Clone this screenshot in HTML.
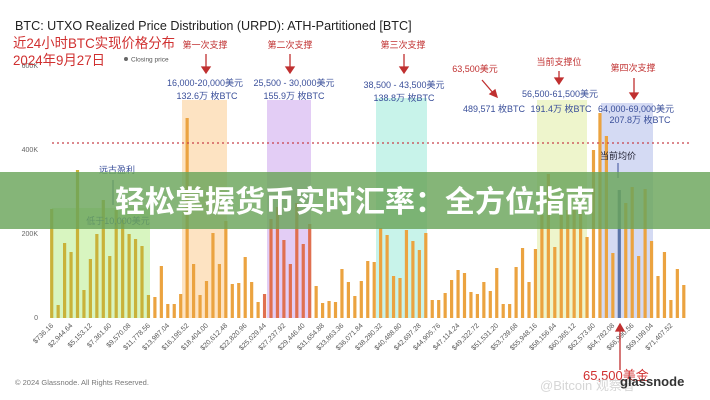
<!DOCTYPE html>
<html><head><meta charset="utf-8"><style>
body{margin:0;background:#fff;width:710px;height:400px;overflow:hidden}
svg{display:block;font-family:"Liberation Sans","Noto Sans CJK SC",sans-serif}
</style></head><body>
<svg id="s" width="710" height="400" viewBox="0 0 710 400" xmlns="http://www.w3.org/2000/svg">
<rect width="710" height="400" fill="#fff"/>
<rect x="52" y="208" width="98" height="110" fill="#d8f5c0"/>
<rect x="182" y="100" width="45" height="218" fill="#fde3c2"/>
<rect x="267" y="100" width="44" height="218" fill="#e3cdf5"/>
<rect x="376" y="98" width="51" height="220" fill="#c8f3ea"/>
<rect x="537" y="100" width="50" height="218" fill="#eef5cc"/>
<rect x="601" y="103" width="52" height="215" fill="#d4daf3"/>
<g id="bars"></g>
<line x1="52" y1="143" x2="690" y2="143" stroke="#c8404a" stroke-width="1.2" stroke-dasharray="2,3"/>
<g font-size="7" fill="#666">
<text x="38" y="68" text-anchor="end">600K</text>
<text x="38" y="152" text-anchor="end">400K</text>
<text x="38" y="236" text-anchor="end">200K</text>
<text x="38" y="320" text-anchor="end">0</text>
</g>
<g id="xl" font-size="7" fill="#555"></g>
<text x="15" y="30" font-size="12.6" fill="#222">BTC: UTXO Realized Price Distribution (URPD): ATH-Partitioned [BTC]</text>
<circle cx="126" cy="59" r="2" fill="#666"/>
<text x="131" y="61.5" font-size="6.5" fill="#555">Closing price</text>
<text x="13" y="48" font-size="14" fill="#d03030" textLength="162" lengthAdjust="spacingAndGlyphs">近24小时BTC实现价格分布</text>
<text x="13" y="65" font-size="14" fill="#d03030" textLength="92" lengthAdjust="spacingAndGlyphs">2024年9月27日</text>
<g font-size="9" fill="#c03030" text-anchor="middle">
<text x="205" y="48">第一次支撑</text>
<text x="290" y="48">第二次支撑</text>
<text x="403" y="48">第三次支撑</text>
<text x="475" y="72">63,500美元</text>
<text x="559" y="65">当前支撑位</text>
<text x="633" y="71">第四次支撑</text>
</g>
<g stroke="#c03030" stroke-width="1.3" fill="#c03030">
<line x1="206" y1="54" x2="206" y2="68"/><path d="M202,67 L210,67 L206,73Z"/>
<line x1="290" y1="54" x2="290" y2="68"/><path d="M286,67 L294,67 L290,73Z"/>
<line x1="404" y1="54" x2="404" y2="68"/><path d="M400,67 L408,67 L404,73Z"/>
<line x1="482" y1="80" x2="494" y2="94"/><path d="M490,94 L497,97 L495,90Z"/>
<line x1="559" y1="71" x2="559" y2="79"/><path d="M555,78 L563,78 L559,84Z"/>
<line x1="634" y1="78" x2="634" y2="94"/><path d="M630,93 L638,93 L634,99Z"/>
<line x1="620" y1="370" x2="620" y2="330"/><path d="M616,331 L624,331 L620,324Z"/>
</g>
<g font-size="9" fill="#3a4f9a" text-anchor="middle">
<text x="205" y="86">16,000-20,000美元</text>
<text x="207" y="99">132.6万 枚BTC</text>
<text x="294" y="86">25,500 - 30,000美元</text>
<text x="294" y="99">155.9万 枚BTC</text>
<text x="404" y="88">38,500 - 43,500美元</text>
<text x="404" y="101">138.8万 枚BTC</text>
<text x="494" y="112">489,571 枚BTC</text>
<text x="560" y="97">56,500-61,500美元</text>
<text x="561" y="112">191.4万 枚BTC</text>
<text x="636" y="112">64,000-69,000美元</text>
<text x="640" y="123">207.8万 枚BTC</text>
<text x="117" y="173">远古盈利</text>
<text x="118" y="224">低于10,000美元</text>
<text x="618" y="159" fill="#223">当前均价</text>
</g>
<line x1="113" y1="180" x2="113" y2="205" stroke="#3a4f9a"/>
<line x1="618" y1="163" x2="618" y2="178" stroke="#3a4f9a"/>
<text x="15" y="385" font-size="7.5" fill="#777">© 2024 Glassnode. All Rights Reserved.</text>
<text x="583" y="380" font-size="13" fill="#d03030">65,500美金</text>
<text x="540" y="390" font-size="13" fill="#ccc" opacity="0.8">@Bitcoin 观察者</text>
<text x="620" y="386" font-size="13" fill="#333" font-weight="bold">glassnode</text>
<rect x="0" y="172" width="710" height="57" fill="#6aa55a" fill-opacity="0.82"/>
<text x="355" y="212" font-size="30" font-weight="bold" fill="#fff" text-anchor="middle" font-family="Noto Sans CJK SC, sans-serif">轻松掌握货币实时汇率：全方位指南</text>
</svg>
<script>
var tops=[209,305,243,252,170,290,259,234,200,256,210,220,234,239,246,295,297,266,304,304,294,118,264,295,281,233,264,221,284,283,257,282,302,294,219,207,240,264,203,244,224,286,303,301,302,269,282,296,281,261,262,228,235,276,278,230,241,250,233,300,300,293,280,270,273,292,294,282,291,268,304,304,267,248,282,249,215,174,247,215,210,210,210,237,150,113,136,253,190,203,187,256,189,241,276,252,300,269,285];
var ns="http://www.w3.org/2000/svg",g=document.getElementById('bars'),xl=document.getElementById('xl');
for(var i=0;i<tops.length;i++){var x=51.7+i*6.45;var r=document.createElementNS(ns,'rect');
var c='#eba340';if(i<=15)c='#c9b23a';else if(i>=33&&i<=40)c='#e07050';if(i==88)c='#5a74a8';
r.setAttribute('x',x-1.6);r.setAttribute('y',tops[i]);r.setAttribute('width',3.2);r.setAttribute('height',318-tops[i]);r.setAttribute('fill',c);g.appendChild(r);
if(i%3==0){var v=736.16+(i/3)*2208.48;var t=document.createElementNS(ns,'text');
t.textContent='$'+v.toLocaleString('en-US',{minimumFractionDigits:2,maximumFractionDigits:2});
t.setAttribute('text-anchor','end');t.setAttribute('transform','translate('+(x+2)+',326) rotate(-45)');xl.appendChild(t);}}
</script>
</body></html>
